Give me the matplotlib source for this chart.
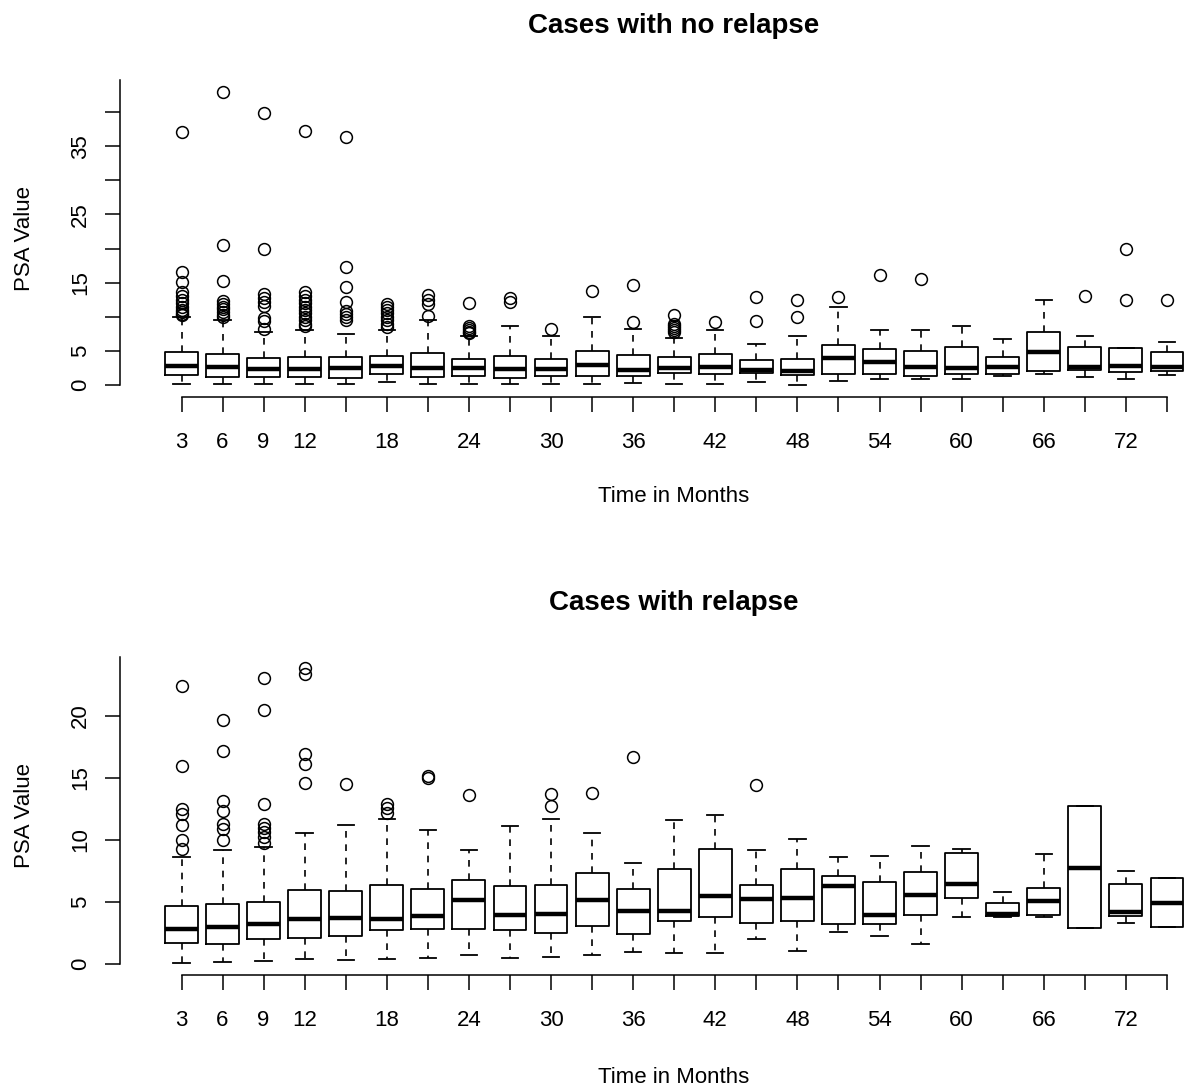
import matplotlib
matplotlib.use("Agg")
import matplotlib.pyplot as plt

plt.rcParams['font.family'] = ['Liberation Sans', 'DejaVu Sans']

# ---------------- data ----------------
months = [3, 6, 9, 12, 15, 18, 21, 24, 27, 30, 33, 36, 39, 42, 45, 48, 51, 54, 57, 60, 63, 66, 69, 72, 75]
x_tick_labels = ['3', '6', '9', '12', '', '18', '', '24', '', '30', '', '36', '', '42', '', '48', '',
                 '54', '', '60', '', '66', '', '72', '']

# Cases with no relapse
nr_q1 = [1.42, 1.22, 1.22, 1.12, 1.07, 1.61, 1.22, 1.32, 0.98, 1.32, 1.37, 1.32, 1.71, 1.61, 1.71,
         1.47, 1.61, 1.56, 1.32, 1.56, 1.61, 2.10, 2.20, 1.96, 2.10]
nr_med = [2.79, 2.69, 2.30, 2.30, 2.54, 2.79, 2.45, 2.45, 2.30, 2.30, 2.93, 2.20, 2.54, 2.69, 2.20,
          2.10, 3.90, 3.32, 2.69, 2.45, 2.59, 4.88, 2.69, 2.79, 2.69]
nr_q3 = [4.88, 4.55, 3.96, 4.10, 4.10, 4.30, 4.74, 3.76, 4.30, 3.76, 4.98, 4.35, 4.10, 4.50, 3.67,
         3.81, 5.81, 5.23, 4.98, 5.52, 4.15, 7.80, 5.52, 5.38, 4.88]
nr_lo = [0.10, 0.10, 0.10, 0.10, 0.10, 0.40, 0.15, 0.15, 0.15, 0.15, 0.15, 0.24, 0.20, 0.20, 0.40,
         0.00, 0.63, 0.88, 0.88, 0.88, 1.37, 1.56, 1.22, 0.93, 1.47]
nr_hi = [9.90, 9.60, 7.80, 8.06, 7.43, 8.06, 9.60, 7.18, 8.70, 7.18, 9.90, 8.16, 6.94, 8.06, 6.00,
         7.18, 11.40, 8.06, 8.06, 8.70, 6.74, 12.46, 7.23, 5.38, 6.30]
nr_fliers = [
    [37.1, 16.6, 15.1, 13.6, 13.0, 12.5, 12.0, 11.5, 11.0, 10.7, 10.4, 10.2],
    [43.0, 20.6, 15.2, 12.3, 11.9, 11.5, 11.1, 10.7, 10.3, 9.9],
    [39.9, 19.9, 13.4, 12.7, 12.1, 11.6, 9.8, 9.4, 8.2],
    [37.3, 13.6, 13.0, 12.5, 12.0, 11.5, 11.0, 10.5, 10.0, 9.5, 9.0, 8.6],
    [36.4, 17.3, 14.4, 12.1, 10.9, 10.4, 10.0, 9.6],
    [11.9, 11.5, 11.0, 10.5, 10.0, 9.5, 9.0, 8.5],
    [13.2, 12.5, 11.9, 10.1],
    [12.0, 8.7, 8.4, 8.1, 7.8, 7.6],
    [12.7, 12.2],
    [8.2],
    [13.8],
    [14.6, 9.2],
    [10.3, 8.9, 8.6, 8.3, 8.0, 7.7],
    [9.24],
    [12.9, 9.4],
    [12.4, 9.9],
    [12.95],
    [16.2],
    [15.5],
    [],
    [],
    [],
    [13.0],
    [19.9, 12.5],
    [12.5],
]

# Cases with relapse
r_q1 = [1.67, 1.62, 2.02, 2.10, 2.26, 2.70, 2.80, 2.83, 2.70, 2.50, 3.10, 2.43, 3.50, 3.77, 3.34,
        3.50, 3.23, 3.20, 3.91, 5.34, 3.83, 3.96, 2.88, 3.88, 3.02]
r_med = [2.80, 2.96, 3.23, 3.64, 3.72, 3.61, 3.90, 5.17, 3.96, 3.99, 5.12, 4.31, 4.31, 5.47, 5.28,
         5.34, 6.28, 3.91, 5.58, 6.47, 3.99, 5.07, 7.76, 4.23, 4.93]
r_q3 = [4.66, 4.80, 4.99, 5.93, 5.85, 6.33, 6.06, 6.74, 6.28, 6.39, 7.33, 6.06, 7.63, 9.25, 6.33,
        7.63, 7.06, 6.60, 7.41, 8.95, 4.90, 6.12, 12.75, 6.47, 6.95]
r_lo = [0.08, 0.19, 0.27, 0.40, 0.32, 0.40, 0.46, 0.75, 0.46, 0.60, 0.73, 0.94, 0.86, 0.89, 2.02,
        1.08, 2.61, 2.29, 1.62, 3.77, 3.77, 3.77, 2.88, 3.29, 3.02]
r_hi = [8.63, 9.20, 9.43, 10.60, 11.20, 11.70, 10.80, 9.20, 11.16, 11.70, 10.60, 8.14, 11.64, 12.05,
        9.16, 10.05, 8.60, 8.68, 9.51, 9.30, 5.80, 8.90, 12.75, 7.47, 6.95]
r_fliers = [
    [22.4, 15.96, 12.5, 12.08, 11.2, 9.97, 9.3],
    [19.7, 17.2, 13.15, 12.3, 11.27, 10.9, 9.97],
    [23.1, 20.5, 12.9, 11.3, 11.0, 10.65, 10.24, 9.76],
    [23.9, 23.4, 16.9, 16.1, 14.6],
    [14.5],
    [12.9, 12.6, 12.2],
    [15.2, 15.0],
    [13.6],
    [],
    [13.7, 12.75],
    [13.75],
    [16.7],
    [],
    [],
    [14.4],
    [], [], [], [], [], [], [], [], [], [],
]

top_yticks = [0, 5, 10, 15, 20, 25, 30, 35, 40]
top_ylabels = ['0', '5', '', '15', '', '25', '', '35', '']
bot_yticks = [0, 5, 10, 15, 20]
bot_ylabels = ['0', '5', '10', '15', '20']

# ---------------- figure ----------------
W, H = 1187, 1088
fig = plt.figure(figsize=(W / 100, H / 100), dpi=100)


def px_axes(left, right, top, bottom):
    return fig.add_axes([left / W, 1 - bottom / H, (right - left) / W, (bottom - top) / H])


def make_stats(q1, med, q3, lo, hi, fl):
    return [dict(q1=a, med=b, q3=c, whislo=d, whishi=e, fliers=f)
            for a, b, c, d, e, f in zip(q1, med, q3, lo, hi, fl)]


FS = 16
px_per_month = 41.06 / 3.0
x_left = 3 - (181.5 - 120) / px_per_month
x_right = 3 + (1187 - 181.5) / px_per_month
title_x = (674 - 120) / (1187 - 120)


def draw_panel(ax, stats, yticks, ylabels, ylim, title, title_y_px, xlab_y):
    ax.bxp(stats, positions=months, widths=2.4, capwidths=1.2, showfliers=True,
           boxprops=dict(color='black', linewidth=1.3),
           medianprops=dict(color='black', linewidth=3.2, solid_capstyle='butt'),
           whiskerprops=dict(color='black', linewidth=1.2, linestyle=(0, (4, 4))),
           capprops=dict(color='black', linewidth=1.3),
           flierprops=dict(marker='o', markerfacecolor='none', markeredgecolor='black',
                           markersize=8.5, markeredgewidth=1.1, linestyle='none'))
    ax.set_xlim(x_left, x_right)
    ax.set_ylim(*ylim)
    for s in ['top', 'right']:
        ax.spines[s].set_visible(False)
    ax.spines['left'].set_bounds(0, ylim[1])
    ax.spines['bottom'].set_bounds(months[0], months[-1])
    for s in ['left', 'bottom']:
        ax.spines[s].set_linewidth(1.1)
    ax.set_xticks(months)
    ax.set_xticklabels(x_tick_labels, fontsize=FS)
    ax.set_yticks(yticks)
    ax.set_yticklabels(ylabels, fontsize=FS, rotation=90, va='center')
    ax.tick_params(axis='both', length=10.8, width=1.1, color='black')
    ax.tick_params(axis='x', pad=14.5)
    ax.tick_params(axis='y', pad=10)
    ax.set_ylabel('PSA Value', fontsize=FS)
    ax.yaxis.set_label_coords(-0.08, 0.5)
    ax.set_xlabel('Time in Months', fontsize=FS)
    ax.xaxis.set_label_coords(title_x, xlab_y)
    fig.text(674 / W, 1 - title_y_px / H, title, ha='center', va='center',
             fontsize=20, fontweight='bold')


ax1 = px_axes(120, 1187, 80, 397)
draw_panel(ax1, make_stats(nr_q1, nr_med, nr_q3, nr_lo, nr_hi, nr_fliers),
           top_yticks, top_ylabels, (-1.76, 44.72), 'Cases with no relapse', 26, -0.281)

ax2 = px_axes(120, 1187, 657, 975)
draw_panel(ax2, make_stats(r_q1, r_med, r_q3, r_lo, r_hi, r_fliers),
           bot_yticks, bot_ylabels, (-0.89, 24.76), 'Cases with relapse', 603, -0.290)

fig.savefig('out.png', dpi=100, facecolor='white')
